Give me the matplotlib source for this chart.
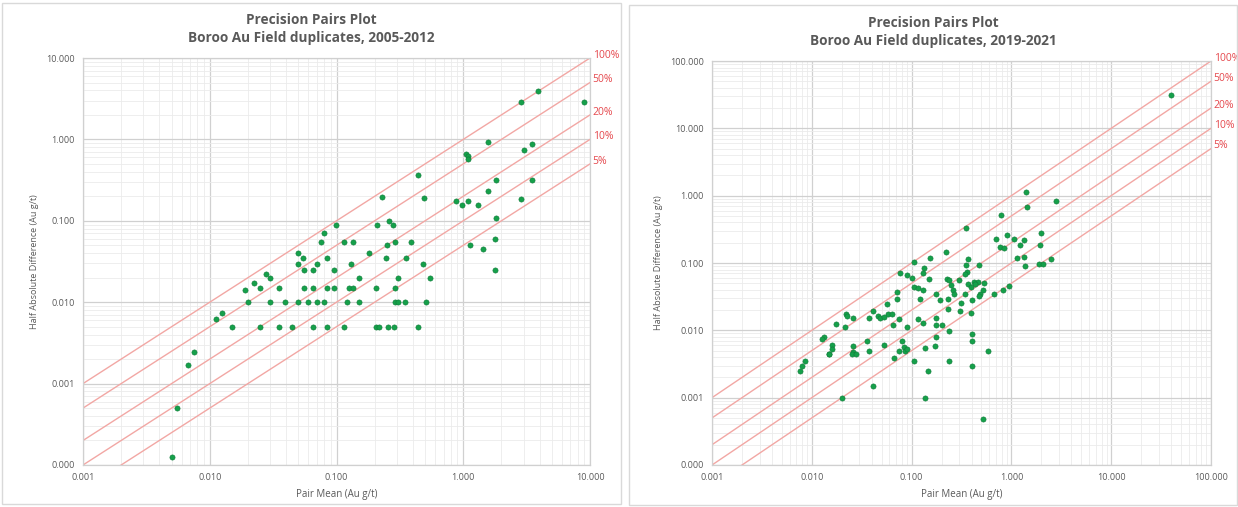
import matplotlib
matplotlib.use("Agg")
import matplotlib.pyplot as plt
from matplotlib.patches import Rectangle
from matplotlib.transforms import offset_copy
from matplotlib.ticker import FixedLocator, FixedFormatter, LogLocator, NullFormatter

plt.rcParams['font.family'] = ['Open Sans', 'DejaVu Sans']

# ---------------- data ----------------
left_title = "Precision Pairs Plot\nBoroo Au Field duplicates, 2005-2012"
right_title = "Precision Pairs Plot\nBoroo Au Field duplicates, 2019-2021"
x_label = "Pair Mean (Au g/t)"
y_label = "Half Absolute Difference (Au g/t)"

precision_levels = [1.0, 0.5, 0.2, 0.1, 0.05]
precision_labels = ["100%", "50%", "20%", "10%", "5%"]

left_x_ticks = [0.001, 0.01, 0.1, 1, 10]
left_x_ticklabels = ["0.001", "0.010", "0.100", "1.000", "10.000"]
left_y_ticks = [0.0001, 0.001, 0.01, 0.1, 1, 10]
left_y_ticklabels = ["0.000", "0.001", "0.010", "0.100", "1.000", "10.000"]

right_x_ticks = [0.001, 0.01, 0.1, 1, 10, 100]
right_x_ticklabels = ["0.001", "0.010", "0.100", "1.000", "10.000", "100.000"]
right_y_ticks = [0.0001, 0.001, 0.01, 0.1, 1, 10, 100]
right_y_ticklabels = ["0.000", "0.001", "0.010", "0.100", "1.000", "10.000", "100.000"]

left_mean = [0.00507, 0.0055, 0.0067, 0.0075, 0.0112, 0.0124, 0.015, 0.0191, 0.020, 0.0224,
             0.0248, 0.0248, 0.0276, 0.0301, 0.030, 0.0352, 0.035, 0.0394, 0.0449, 0.0496,
             0.0496, 0.050, 0.0549, 0.055, 0.055, 0.060, 0.0653, 0.065, 0.065, 0.0702,
             0.070, 0.0754, 0.0798, 0.080, 0.0845, 0.0845, 0.0845, 0.0955, 0.0955, 0.0998,
             0.115, 0.115, 0.121, 0.126, 0.129, 0.136, 0.136, 0.150, 0.150, 0.1795,
             0.206, 0.206, 0.210, 0.215, 0.229, 0.244, 0.250, 0.256, 0.259, 0.278,
             0.282, 0.290, 0.290, 0.290, 0.307, 0.307, 0.348, 0.355, 0.384, 0.441,
             0.441, 0.480, 0.491, 0.508, 0.546, 0.871, 0.984, 1.042, 1.096, 1.10,
             1.135, 1.10, 1.31, 1.42, 1.57, 1.57, 1.77, 1.77, 1.81, 1.81,
             2.87, 2.87, 3.01, 3.46, 3.46, 3.88, 8.97]
left_hd = [0.000124, 0.0005, 0.00167, 0.00244, 0.00616, 0.0073, 0.005, 0.01416, 0.010, 0.01726,
           0.015, 0.005, 0.0221, 0.0199, 0.010, 0.015, 0.005, 0.010, 0.005, 0.0397,
           0.0296, 0.010, 0.0351, 0.0247, 0.015, 0.010, 0.025, 0.015, 0.005, 0.0296,
           0.010, 0.0552, 0.070, 0.010, 0.035, 0.015, 0.005, 0.015, 0.025, 0.0895,
           0.055, 0.005, 0.010, 0.015, 0.0296, 0.055, 0.015, 0.020, 0.010, 0.0397,
           0.015, 0.005, 0.0895, 0.005, 0.198, 0.035, 0.0502, 0.005, 0.100, 0.0895,
           0.005, 0.015, 0.010, 0.055, 0.020, 0.010, 0.010, 0.035, 0.055, 0.005,
           0.366, 0.0296, 0.189, 0.010, 0.020, 0.175, 0.156, 0.657, 0.617, 0.570,
           0.0502, 0.175, 0.156, 0.0445, 0.925, 0.232, 0.059, 0.025, 0.318, 0.109,
           2.90, 0.186, 0.743, 0.880, 0.318, 3.88, 2.91]

right_mean = [39.5, 1.40, 1.44, 2.83, 0.789, 0.354, 0.695, 0.906, 1.05, 0.775,
              0.84, 1.21, 1.34, 1.98, 1.93, 1.135, 1.35, 1.36, 1.88, 2.09,
              2.48, 0.946, 0.826, 0.676, 0.371, 0.47, 0.347, 0.36, 0.339, 0.221,
              0.152, 0.1066, 0.134, 0.131, 0.076, 0.089, 0.102, 0.151, 0.227, 0.237,
              0.298, 0.248, 0.26, 0.264, 0.364, 0.418, 0.46, 0.43, 0.39, 0.488,
              0.47, 0.524, 0.53, 0.406, 0.392, 0.312, 0.303, 0.229, 0.229, 0.193,
              0.176, 0.122, 0.1066, 0.117, 0.131, 0.0708, 0.071, 0.0569, 0.058, 0.063,
              0.041, 0.0457, 0.048, 0.0528, 0.0374, 0.0221, 0.0225, 0.026, 0.0173, 0.0213,
              0.0646, 0.074, 0.089, 0.115, 0.131, 0.176, 0.176, 0.201, 0.237, 0.406,
              0.406, 0.176, 0.0131, 0.0127, 0.0161, 0.0161, 0.0148, 0.015, 0.026, 0.026,
              0.025, 0.028, 0.0357, 0.0374, 0.0528, 0.0664, 0.0796, 0.083, 0.085, 0.075,
              0.09, 0.137, 0.171, 0.105, 0.237, 0.147, 0.406, 0.585, 0.0076, 0.0080,
              0.0085, 0.041, 0.0201, 0.137, 0.524, 0.34]
right_hd = [30.8, 1.12, 0.69, 0.82, 0.519, 0.328, 0.23, 0.261, 0.226, 0.175,
            0.167, 0.187, 0.22, 0.283, 0.185, 0.12, 0.124, 0.091, 0.095, 0.0975,
            0.113, 0.046, 0.040, 0.035, 0.115, 0.094, 0.094, 0.074, 0.0685, 0.144,
            0.12, 0.102, 0.085, 0.07, 0.07, 0.066, 0.060, 0.057, 0.057, 0.0555,
            0.0555, 0.0465, 0.0396, 0.035, 0.049, 0.0526, 0.0526, 0.048, 0.044, 0.035,
            0.0326, 0.0396, 0.05, 0.0287, 0.0184, 0.0259, 0.0195, 0.0294, 0.0204, 0.028,
            0.0345, 0.029, 0.044, 0.042, 0.040, 0.0377, 0.029, 0.0244, 0.0177, 0.0177,
            0.0195, 0.0162, 0.015, 0.0156, 0.015, 0.0173, 0.0165, 0.015, 0.0126, 0.0112,
            0.0119, 0.0146, 0.0112, 0.0146, 0.0129, 0.015, 0.0119, 0.0119, 0.0098, 0.0089,
            0.0069, 0.008, 0.008, 0.0075, 0.006, 0.0053, 0.0045, 0.0044, 0.0058, 0.0048,
            0.0045, 0.0045, 0.0069, 0.005, 0.006, 0.0039, 0.0069, 0.0056, 0.0049, 0.005,
            0.0053, 0.0055, 0.0058, 0.00346, 0.00346, 0.00248, 0.00295, 0.0049, 0.00248, 0.00295,
            0.00346, 0.00147, 0.00098, 0.00098, 0.00049, 0.035]

# ---------------- styling ----------------
W, H = 1238, 507
fig = plt.figure(figsize=(W / 100, H / 100), dpi=100)
fig.patch.set_facecolor("white")

TEXT = "#595959"
LINE = "#F2A7A4"
LABEL_RED = "#E5484D"
DOT = "#15A04A"
DOT_EDGE = "#0E7A38"

# chart-area borders (pixel boxes: x0, y0, x1, y1)
chart_areas = [(2, 3, 621, 504), (629, 5, 1237, 505)]
for (x0, y0, x1, y1) in chart_areas:
    fig.patches.append(Rectangle((x0 / W, 1 - y1 / H), (x1 - x0) / W, (y1 - y0) / H,
                                 transform=fig.transFigure, fill=False,
                                 edgecolor="#D9D9D9", linewidth=1.0))


def make_panel(rect, area, title, xlim, ylim, xt, xtl, yt, ytl, xs, ys, title_y):
    l, t, r, b = rect
    ax = fig.add_axes([l / W, 1 - b / H, (r - l) / W, (b - t) / H])
    ax.set_xscale("log")
    ax.set_yscale("log")
    ax.set_xlim(*xlim)
    ax.set_ylim(*ylim)
    ax.xaxis.set_major_locator(FixedLocator(xt))
    ax.xaxis.set_major_formatter(FixedFormatter(xtl))
    ax.yaxis.set_major_locator(FixedLocator(yt))
    ax.yaxis.set_major_formatter(FixedFormatter(ytl))
    ax.xaxis.set_minor_locator(LogLocator(base=10, subs=range(2, 10), numticks=50))
    ax.yaxis.set_minor_locator(LogLocator(base=10, subs=range(2, 10), numticks=50))
    ax.xaxis.set_minor_formatter(NullFormatter())
    ax.yaxis.set_minor_formatter(NullFormatter())
    ax.grid(True, which="major", color="#D0D0D0", linewidth=0.9)
    ax.grid(True, which="minor", color="#EBEBEB", linewidth=0.6)
    ax.set_axisbelow(True)
    ax.tick_params(which="both", length=0, labelsize=6.5, colors=TEXT, pad=6)
    for s in ax.spines.values():
        s.set_color("#D0D0D0")
        s.set_linewidth(0.9)
    ax.set_xlabel(x_label, fontsize=7, color=TEXT, labelpad=5)
    ax.set_ylabel(y_label, fontsize=6.5, color=TEXT, labelpad=5)

    lab_tr = offset_copy(ax.transData, fig=fig, x=2, y=2, units="points")
    for p, lab in zip(precision_levels, precision_labels):
        ax.plot(list(xlim), [p * xlim[0], p * xlim[1]], color=LINE, linewidth=1.0, zorder=2)
        ax.text(xlim[1], p * xlim[1], lab, transform=lab_tr, fontsize=7.5,
                color=LABEL_RED, ha="left", va="center", clip_on=False)
    ax.scatter(xs, ys, s=14, color=DOT, edgecolors=DOT_EDGE, linewidths=0.4, zorder=3)
    cx = (area[0] + area[2]) / 2
    fig.text(cx / W, 1 - title_y / H, title, ha="center", va="center",
             fontsize=9.8, fontweight="bold", color=TEXT, linespacing=1.35)
    return ax


make_panel((83, 58, 590, 465), chart_areas[0], left_title, (0.001, 10), (0.0001, 10),
           left_x_ticks, left_x_ticklabels, left_y_ticks, left_y_ticklabels,
           left_mean, left_hd, 29)
make_panel((712, 61, 1211, 465), chart_areas[1], right_title, (0.001, 100), (0.0001, 100),
           right_x_ticks, right_x_ticklabels, right_y_ticks, right_y_ticklabels,
           right_mean, right_hd, 32)

fig.savefig("out.png", dpi=100, facecolor="white")
